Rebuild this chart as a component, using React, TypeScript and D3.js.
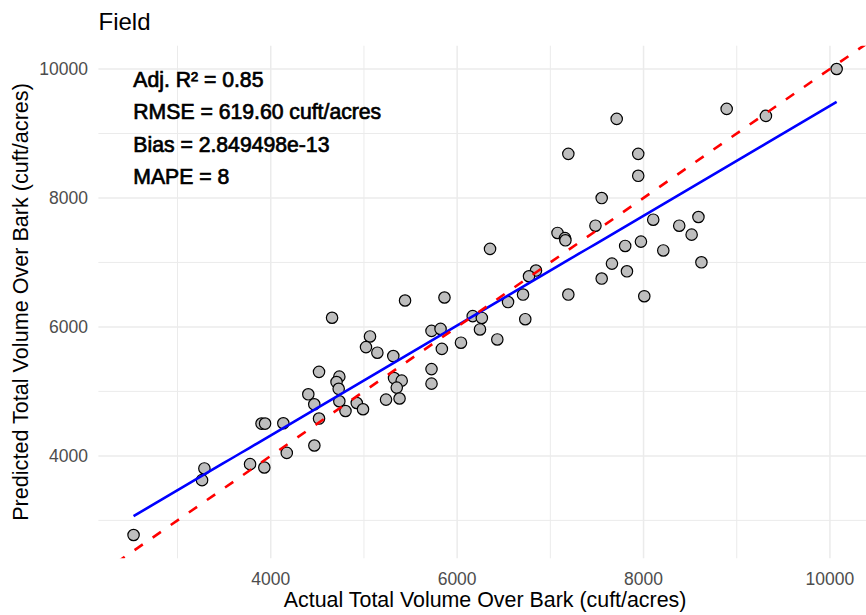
import React from "react";
import * as d3 from "d3";

// Observed (actual) and model-predicted total volume over bark, cuft/acres
const actual = [
  2528, 3288, 3263, 3901, 3939, 4135, 3778, 3931, 4172, 4468, 4658, 5441, 5864, 5065, 5022,
  5144, 5315, 5725, 5822, 5836, 6041, 4518, 4736, 4706, 4729, 4403, 4467, 4736, 4802, 4923,
  4990, 4518, 5323, 5405, 5352, 5237, 5382, 5725, 5725, 6353, 7077, 7157, 7162, 7484, 7193,
  6846, 6771, 6707, 6546, 6731, 6167, 6265, 6245, 6431, 7712, 7193, 7943, 7943, 7551, 8104,
  8383, 8589, 8516, 7972, 7803, 8212, 8621, 7661, 7822, 7551, 8008, 8892, 9313, 10072,
];
const predicted = [
  2773, 3805, 3624, 4501, 4501, 4506, 3872, 3820, 4046, 4161, 6142, 6410, 6456, 5852, 5687,
  5600, 5548, 5938, 5969, 5659, 5755, 5303, 5229, 5145, 5040, 4955, 4800, 4847, 4696, 4820,
  4723, 4579, 5207, 5167, 5059, 4873, 4890, 5346, 5120, 7210, 7457, 7377, 7343, 7570, 6502,
  6874, 6786, 6502, 6386, 6120, 6167, 6139, 5961, 5806, 9226, 8684, 8684, 8344, 7999, 7663,
  7570, 7705, 7431, 7323, 7256, 7186, 7002, 6982, 6863, 6750, 6476, 9381, 9273, 10000,
];

const majorTicks = [4000, 6000, 8000, 10000];
const minorTicks = [3000, 5000, 7000, 9000];

const statLines = [
  "Adj. R\u00B2 = 0.85",
  "RMSE = 619.60 cuft/acres",
  "Bias = 2.849498e-13",
  "MAPE = 8",
];

const W = 866;
const H = 615;
const panel = { left: 98.4, right: 871.8, top: 45.7, bottom: 558.3 };
const FONT = "'Liberation Sans', Arial, Helvetica, sans-serif";

// ggplot-style 5% expansion around the data range
function expanded(vals: number[]): [number, number] {
  const [lo, hi] = d3.extent(vals) as [number, number];
  const pad = (hi - lo) * 0.05;
  return [lo - pad, hi + pad];
}

export default function App() {
  const x = d3.scaleLinear().domain(expanded(actual)).range([panel.left, panel.right]);
  const y = d3.scaleLinear().domain(expanded(predicted)).range([panel.bottom, panel.top]);

  // Least-squares fit of predicted on actual
  const mx = d3.mean(actual) as number;
  const my = d3.mean(predicted) as number;
  let sxy = 0;
  let sxx = 0;
  actual.forEach((a, i) => {
    sxy += (a - mx) * (predicted[i] - my);
    sxx += (a - mx) * (a - mx);
  });
  const slope = sxy / sxx;
  const intercept = my - slope * mx;
  const [xMin, xMax] = d3.extent(actual) as [number, number];
  const fitPts: [number, number][] = d3
    .range(80)
    .map((i) => xMin + ((xMax - xMin) * i) / 79)
    .map((v) => [v, intercept + slope * v]);
  const fitLine = d3
    .line<[number, number]>()
    .x((d) => x(d[0]))
    .y((d) => y(d[1]));

  // 1:1 reference line across the whole panel
  const xd = x.domain();
  const oneToOne: [number, number][] = [
    [xd[0], xd[0]],
    [xd[1], xd[1]],
  ];

  return (
    <svg
      width={W}
      height={H}
      style={{ position: "absolute", left: 0, top: 0, background: "#fff" }}
      fontFamily={FONT}
    >
      <defs>
        <clipPath id="panel-clip">
          <rect
            x={panel.left}
            y={panel.top}
            width={panel.right - panel.left}
            height={panel.bottom - panel.top}
          />
        </clipPath>
      </defs>

      {/* grid */}
      <g stroke="#EBEBEB" fill="none">
        {minorTicks.map((t) => (
          <line key={"vx" + t} x1={x(t)} x2={x(t)} y1={panel.top} y2={panel.bottom} strokeWidth={1} />
        ))}
        {minorTicks.map((t) => (
          <line key={"hy" + t} x1={panel.left} x2={panel.right} y1={y(t)} y2={y(t)} strokeWidth={1} />
        ))}
        {majorTicks.map((t) => (
          <line key={"VX" + t} x1={x(t)} x2={x(t)} y1={panel.top} y2={panel.bottom} strokeWidth={1.5} />
        ))}
        {majorTicks.map((t) => (
          <line key={"HY" + t} x1={panel.left} x2={panel.right} y1={y(t)} y2={y(t)} strokeWidth={1.5} />
        ))}
      </g>

      {/* points, fit and 1:1 line */}
      <g clipPath="url(#panel-clip)">
        {actual.map((a, i) => (
          <circle
            key={i}
            cx={x(a)}
            cy={y(predicted[i])}
            r={5.7}
            fill="#BEBEBE"
            stroke="#000"
            strokeWidth={1.2}
          />
        ))}
        <path
          d={fitLine(fitPts) as string}
          fill="none"
          stroke="#0000FF"
          strokeWidth={2.6}
        />
        <path
          d={fitLine(oneToOne) as string}
          fill="none"
          stroke="#FF0000"
          strokeWidth={2.6}
          strokeDasharray="10 12"
        />
      </g>

      {/* axis tick labels */}
      <g fill="#4D4D4D" fontSize={17.5}>
        {majorTicks.map((t) => (
          <text key={"xl" + t} x={x(t)} y={panel.bottom + 26.7} textAnchor="middle">
            {t}
          </text>
        ))}
        {majorTicks.map((t) => (
          <text key={"yl" + t} x={88} y={y(t) + 6.4} textAnchor="end">
            {t}
          </text>
        ))}
      </g>

      {/* axis titles */}
      <text
        x={(panel.left + panel.right) / 2}
        y={607}
        textAnchor="middle"
        fontSize={21.4}
        fill="#000"
      >
        Actual Total Volume Over Bark (cuft/acres)
      </text>
      <text
        transform={`translate(28, ${(panel.top + panel.bottom) / 2}) rotate(-90)`}
        textAnchor="middle"
        fontSize={21.6}
        fill="#000"
      >
        Predicted Total Volume Over Bark (cuft/acres)
      </text>

      {/* title */}
      <text x={98.5} y={30} fontSize={24} fill="#000">
        Field
      </text>

      {/* fit statistics */}
      <g fontSize={21.2} fill="#000" stroke="#000" strokeWidth={0.7}>
        {statLines.map((s, i) => (
          <text key={i} x={133.3} y={87 + i * 32.3}>
            {s}
          </text>
        ))}
      </g>
    </svg>
  );
}
